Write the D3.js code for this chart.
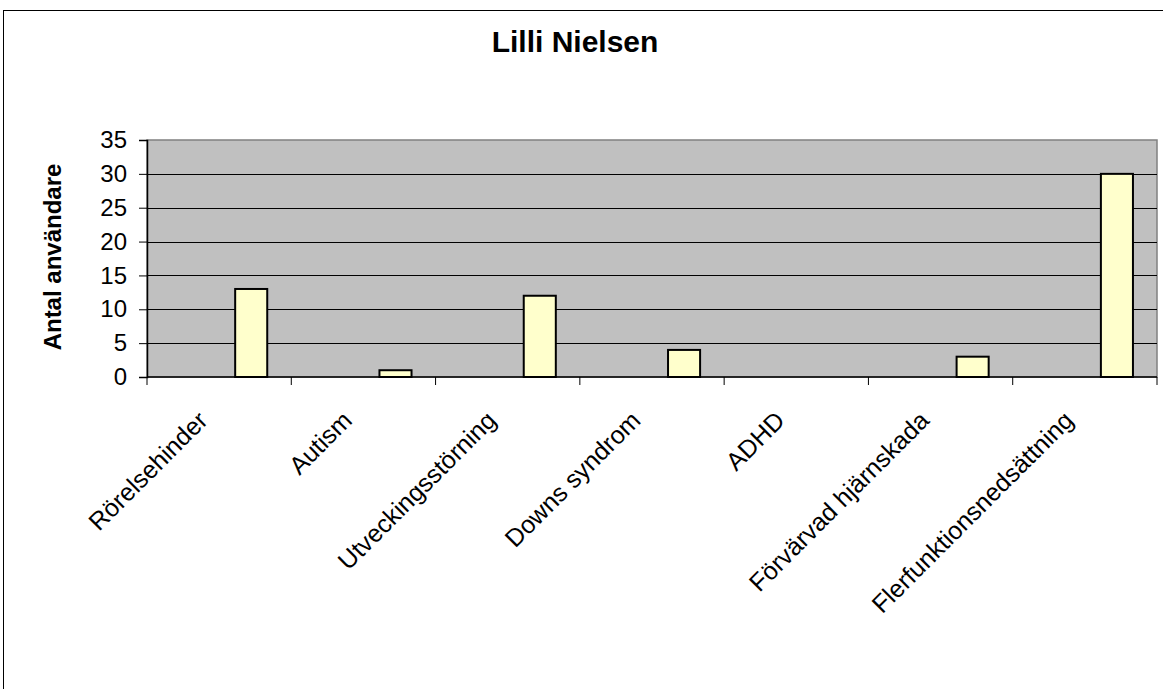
<!DOCTYPE html>
<html>
<head>
<meta charset="utf-8">
<script src="https://cdn.jsdelivr.net/npm/d3@7"></script>
<style>
body { margin: 0; background: #fff; }
svg { display: block; font-family: Arial, "Liberation Sans", sans-serif; }
</style>
</head>
<body>
<svg id="chart" width="1163" height="689"></svg>
<script>
// data
var title = "Lilli Nielsen";
var yTitle = "Antal användare";
var categories = ["Rörelsehinder", "Autism", "Utveckingsstörning", "Downs syndrom", "ADHD", "Förvärvad hjärnskada", "Flerfunktionsnedsättning"];
var values = [13, 1, 12, 4, 0, 3, 30];
var yTicks = [0, 5, 10, 15, 20, 25, 30, 35];
// the source chart had 3 series per category, only the third one has data
var seriesSlots = [0, 1, 2];
var usedSlot = 2;

var svg = d3.select("#chart");
var plot = {left: 147, right: 1157, top: 140, bottom: 377};

// outer chart frame (runs off the right and bottom edge)
svg.append("rect")
	.attr("x", 3.5).attr("y", 10.5)
	.attr("width", 1200).attr("height", 720)
	.attr("fill", "#fff").attr("stroke", "#000").attr("stroke-width", 1);

var x = d3.scaleBand().domain(categories).range([plot.left, plot.right]).padding(0);
var xSub = d3.scaleBand().domain(seriesSlots).range([0, x.bandwidth()]).paddingInner(0).paddingOuter(0.75);
var y = d3.scaleLinear().domain([0, 35]).range([plot.bottom, plot.top]);

// plot area
svg.append("rect")
	.attr("x", plot.left).attr("y", plot.top)
	.attr("width", plot.right - plot.left).attr("height", plot.bottom - plot.top)
	.attr("fill", "#c0c0c0").attr("stroke", "#808080").attr("stroke-width", 1.5);

// gridlines
svg.append("g").selectAll("line")
	.data(yTicks.filter(function (d) { return d > 0 && d < 35; }))
	.enter().append("line")
	.attr("x1", plot.left).attr("x2", plot.right)
	.attr("y1", function (d) { return Math.round(y(d)) + 0.5; })
	.attr("y2", function (d) { return Math.round(y(d)) + 0.5; })
	.attr("stroke", "#000").attr("stroke-width", 1);

// bars
svg.append("g").selectAll("rect")
	.data(values.map(function (v, i) { return {cat: categories[i], v: v}; }).filter(function (d) { return d.v > 0; }))
	.enter().append("rect")
	.attr("x", function (d) { return x(d.cat) + xSub(usedSlot); })
	.attr("y", function (d) { return y(d.v); })
	.attr("width", xSub.bandwidth())
	.attr("height", function (d) { return y(0) - y(d.v); })
	.attr("fill", "#ffffcc").attr("stroke", "#000").attr("stroke-width", 2);

// y axis
var yAxis = d3.axisLeft(y).tickValues(yTicks).tickSize(8).tickPadding(12);
var gy = svg.append("g").attr("transform", "translate(" + plot.left + ",0)").call(yAxis);
gy.select(".domain").attr("stroke", "#000").attr("stroke-width", 1.5);
gy.selectAll(".tick line").attr("stroke", "#000");
gy.selectAll(".tick text").attr("font-size", 24).attr("fill", "#000")
	.attr("font-family", "Arial, 'Liberation Sans', sans-serif");

// x axis line and ticks between categories
svg.append("line")
	.attr("x1", plot.left).attr("x2", plot.right)
	.attr("y1", plot.bottom).attr("y2", plot.bottom)
	.attr("stroke", "#000").attr("stroke-width", 1.5);
var bounds = categories.map(function (c) { return x(c); }).concat([plot.right]);
svg.append("g").selectAll("line")
	.data(bounds).enter().append("line")
	.attr("x1", function (d) { return d; }).attr("x2", function (d) { return d; })
	.attr("y1", plot.bottom).attr("y2", plot.bottom + 8)
	.attr("stroke", "#000").attr("stroke-width", 1);

// rotated category labels
svg.append("g").selectAll("text")
	.data(categories).enter().append("text")
	.attr("transform", function (d) {
		var cx = x(d) + x.bandwidth() / 2 - 10;
		return "translate(" + cx + "," + (plot.bottom + 45) + ") rotate(-45)";
	})
	.attr("text-anchor", "end")
	.attr("font-size", 25)
	.attr("fill", "#000")
	.text(function (d) { return d; });

// titles
svg.append("text")
	.attr("x", 575).attr("y", 52)
	.attr("text-anchor", "middle")
	.attr("font-size", 30).attr("font-weight", "bold")
	.text(title);
svg.append("text")
	.attr("transform", "translate(61,257) rotate(-90)")
	.attr("text-anchor", "middle")
	.attr("font-size", 24).attr("font-weight", "bold")
	.text(yTitle);
</script>
</body>
</html>
